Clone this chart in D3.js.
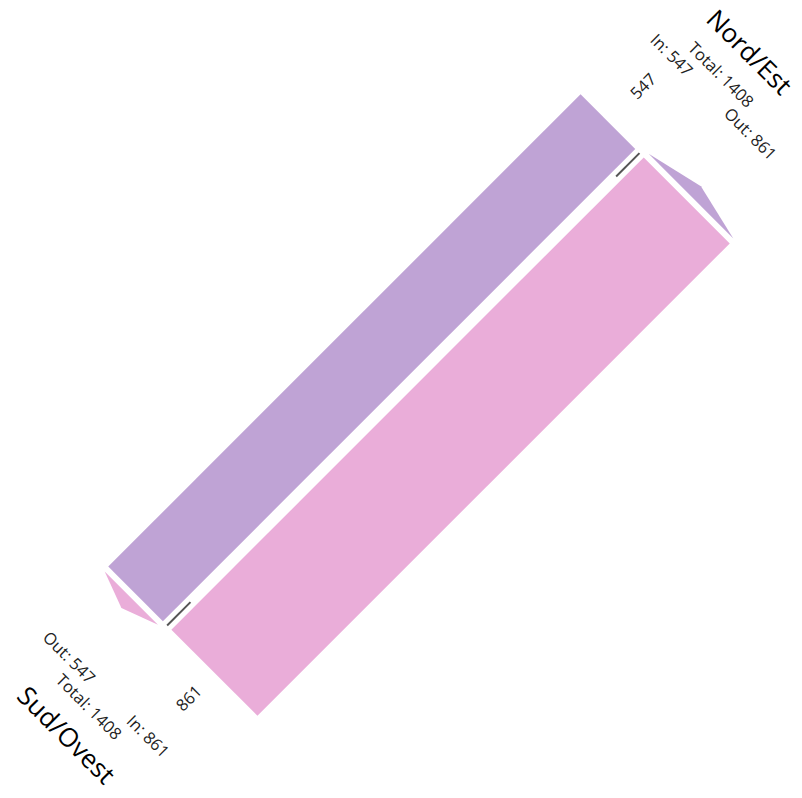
<!DOCTYPE html>
<html>
<head>
<meta charset="utf-8">
<script src="https://cdn.jsdelivr.net/npm/d3@7"></script>
<style>
  html, body { margin: 0; padding: 0; background: #fff; }
  svg { display: block; }
</style>
</head>
<body>
<svg id="chart" width="802" height="798"></svg>
<script>
// ---- data ----
const nodes = ["Nord/Est", "Sud/Ovest"];
const nodeColors = ["#bfa3d5", "#eaadd9"];
const flowSource = ["Sud/Ovest", "Nord/Est"];
const flowTarget = ["Nord/Est", "Sud/Ovest"];
const flowValue = [547, 861];

// ---- derived ----
const flows = flowValue.map((v, i) => ({ source: flowSource[i], target: flowTarget[i], value: v }));
const total = d3.sum(flowValue);
const color = d3.scaleOrdinal().domain(nodes).range(nodeColors);

const svg = d3.select("#chart");
const g = svg.append("g").attr("transform", "translate(419,405) rotate(45)");

const gap = 12;
const wScale = d3.scaleLinear().domain([0, total]).range([0, 199]);
const yNode = d3.scalePoint().domain(nodes).range([-334, 334]);
const x0 = -(wScale(total) + gap * (flows.length - 1)) / 2;

let acc = x0;
flows.forEach(f => { f.x0 = acc; f.x1 = acc + wScale(f.value); acc = f.x1 + gap; });

// bands
g.selectAll("rect.band").data(flows).join("rect")
  .attr("class", "band")
  .attr("x", d => d.x0)
  .attr("width", d => d.x1 - d.x0)
  .attr("y", yNode(nodes[0]))
  .attr("height", yNode(nodes[1]) - yNode(nodes[0]))
  .attr("fill", d => color(d.target));

// outgoing markers (triangles) at each node, in the node color
nodes.forEach(n => {
  const s = yNode(n) < 0 ? -1 : 1;
  const f = flows.find(d => d.source === n);
  const yb = yNode(n) + s * 6, ya = yNode(n) + s * 20;
  const pts = [[f.x0 + 1, yb], [(f.x0 + f.x1) / 2, ya], [f.x1 - 1, yb]];
  g.append("path")
    .attr("d", d3.line()(pts) + "Z")
    .attr("fill", color(n));
  // divider in the gap
  const gx = flows[0].x1 + gap / 2;
  g.append("line")
    .attr("x1", gx).attr("x2", gx)
    .attr("y1", yNode(n)).attr("y2", yNode(n) - s * 33)
    .attr("stroke", "#555").attr("stroke-width", 2);
});

// labels
const font = "'Open Sans', sans-serif";
nodes.forEach(n => {
  const s = yNode(n) < 0 ? -1 : 1;
  const inF = flows.filter(d => d.target === n);
  const outF = flows.filter(d => d.source === n);
  const inV = d3.sum(inF, d => d.value), outV = d3.sum(outF, d => d.value);
  const inB = inF[0], outB = outF[0];

  const txt = (x, y, t, size, fill) => g.append("text")
    .attr("x", x).attr("y", y).attr("dy", "0.35em")
    .attr("text-anchor", "middle")
    .attr("font-family", font).attr("font-size", size)
    .attr("fill", fill).text(t);

  txt(-16, yNode(n) + s * 149, n, 26, "#000");
  txt(-20, yNode(n) + s * 113, "Total: " + (inV + outV), 16.5, "#222");
  txt((inB.x0 + inB.x1) / 2 - 2, yNode(n) + s * 92, "In: " + inV, 16.5, "#222");
  txt((outB.x0 + outB.x1) / 2 - 2, yNode(n) + s * 92, "Out: " + outV, 16.5, "#222");
});

// band value labels (vertical)
flows.forEach(f => {
  const yEnd = yNode(f.target);
  const s = yEnd < 0 ? -1 : 1;
  const dist = s < 0 ? 50 : 36;
  g.append("text")
    .attr("transform", `translate(${(f.x0 + f.x1) / 2},${yEnd + s * dist}) rotate(-90)`)
    .attr("dy", "0.35em")
    .attr("text-anchor", "middle")
    .attr("font-family", font).attr("font-size", 16.5)
    .attr("fill", "#222").text(f.value);
});
</script>
</body>
</html>
